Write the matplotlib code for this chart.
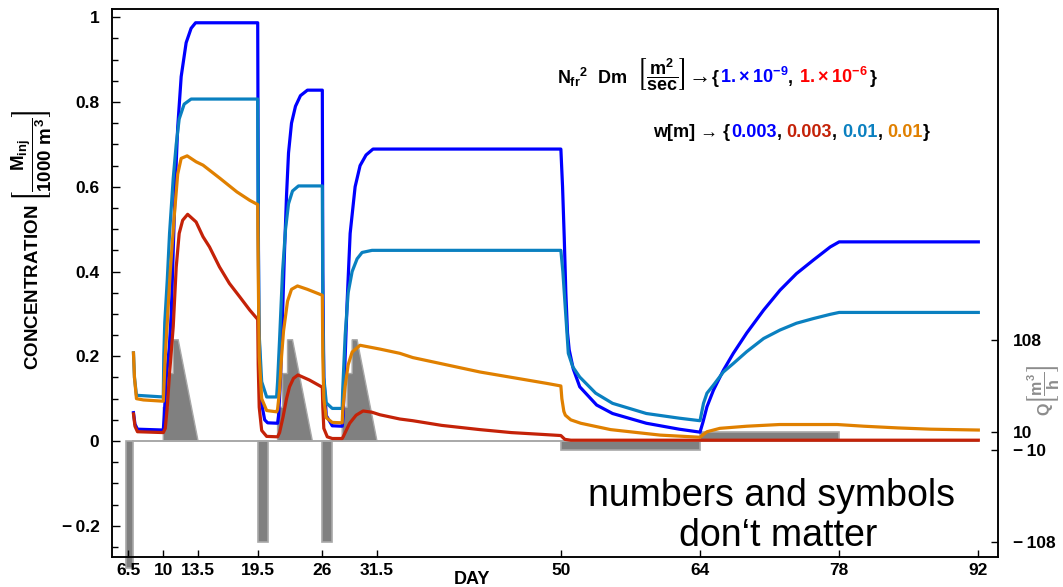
import matplotlib
matplotlib.use('Agg')
import matplotlib.pyplot as plt
from matplotlib.ticker import FixedLocator, FixedFormatter, MultipleLocator

plt.rcParams['font.family'] = ['Liberation Sans', 'DejaVu Sans']
plt.rcParams['font.weight'] = 'bold'
plt.rcParams['mathtext.fontset'] = 'custom'
plt.rcParams['mathtext.rm'] = 'Liberation Sans:bold'
plt.rcParams['mathtext.it'] = 'Liberation Sans:bold'
plt.rcParams['mathtext.bf'] = 'Liberation Sans:bold'
plt.rcParams['mathtext.sf'] = 'Liberation Sans:bold'
plt.rcParams['mathtext.fallback'] = 'stixsans'

# ---------------- data ----------------
blue_day = [7.0, 7.15, 7.4, 10.0, 10.1, 10.3, 10.6, 10.8, 11.0, 11.2, 11.45, 11.8, 12.3, 12.8, 13.25, 19.5,
            19.55, 19.6, 19.8, 20.2, 20.5, 21.5, 21.6, 21.8, 22.0, 22.2, 22.4, 22.6, 22.9, 23.3, 23.8, 24.5, 26.0,
            26.05, 26.15, 26.4, 27.0, 28.0, 28.1, 28.3, 28.5, 28.8, 29.3, 29.8, 30.4, 31.1, 50.0,
            50.17, 50.34, 50.5, 50.67, 50.84, 51.25, 51.9, 53.6, 55.2, 58.6, 61.9, 64.0,
            64.3, 64.7, 65.35, 66.35, 67.35, 68.7, 70.4, 72.05, 73.7, 75.4, 77.1, 78.0, 92.0]
blue_c = [0.067, 0.04, 0.028, 0.026, 0.06, 0.15, 0.22, 0.30, 0.45, 0.60, 0.74, 0.86, 0.94, 0.974, 0.987, 0.987,
          0.6, 0.3, 0.1, 0.05, 0.043, 0.042, 0.06, 0.15, 0.30, 0.45, 0.58, 0.68, 0.75, 0.79, 0.815, 0.828, 0.828,
          0.4, 0.15, 0.06, 0.036, 0.035, 0.06, 0.2, 0.33, 0.49, 0.60, 0.65, 0.675, 0.689, 0.689,
          0.60, 0.48, 0.35, 0.255, 0.215, 0.17, 0.128, 0.085, 0.065, 0.042, 0.028, 0.021,
          0.045, 0.081, 0.12, 0.167, 0.207, 0.255, 0.309, 0.356, 0.395, 0.427, 0.458, 0.470, 0.470]

teal_day = [7.0, 7.1, 7.3, 10.0, 10.05, 10.15, 10.4, 10.63, 11.0, 11.3, 11.6, 12.1, 12.8, 19.5,
            19.55, 19.65, 19.9, 20.4, 21.4, 21.5, 21.7, 22.0, 22.3, 22.6, 23.0, 23.6, 26.0,
            26.05, 26.15, 26.4, 27.0, 28.0, 28.05, 28.3, 28.6, 29.0, 29.5, 30.0, 31.0, 50.0,
            50.2, 50.4, 50.6, 50.75, 51.2, 51.9, 53.5, 55.2, 58.6, 61.9, 64.0,
            64.35, 64.7, 65.35, 66.35, 67.35, 68.7, 70.4, 72.05, 73.7, 75.4, 77.1, 78.0, 92.0]
teal_c = [0.208, 0.15, 0.108, 0.104, 0.2, 0.28, 0.38, 0.49, 0.62, 0.70, 0.76, 0.795, 0.807, 0.807,
          0.5, 0.25, 0.14, 0.104, 0.104, 0.14, 0.24, 0.40, 0.50, 0.56, 0.59, 0.602, 0.602,
          0.3, 0.15, 0.09, 0.077, 0.077, 0.12, 0.25, 0.35, 0.40, 0.43, 0.445, 0.45, 0.45,
          0.40, 0.33, 0.26, 0.207, 0.175, 0.151, 0.113, 0.089, 0.065, 0.054, 0.048,
          0.089, 0.113, 0.132, 0.163, 0.183, 0.211, 0.242, 0.262, 0.278, 0.289, 0.299, 0.3035, 0.3035]

red_day = [7.0, 7.15, 7.4, 10.0, 10.2, 10.4, 10.6, 10.8, 11.0, 11.3, 11.6, 11.95, 12.45, 13.3, 14.0, 14.65,
           15.65, 16.65, 17.7, 18.7, 19.5, 19.55, 19.65, 19.9, 20.4, 21.5, 21.7, 22.05, 22.4, 22.7, 23.1,
           23.55, 24.7, 26.0, 26.05, 26.15, 26.5, 27.0, 28.0, 28.1, 28.4, 28.75, 29.4, 30.1, 31.0, 31.8,
           33.8, 35.1, 38.0, 41.85, 45.0, 48.6, 50.0, 50.4, 51.0, 92.0]
red_c = [0.064, 0.035, 0.022, 0.02, 0.03, 0.08, 0.15, 0.21, 0.27, 0.41, 0.49, 0.521, 0.535, 0.517, 0.482, 0.458,
         0.411, 0.372, 0.34, 0.309, 0.287, 0.18, 0.08, 0.025, 0.011, 0.01, 0.02, 0.057, 0.1, 0.128, 0.148,
         0.156, 0.144, 0.127, 0.08, 0.03, 0.01, 0.006, 0.006, 0.01, 0.025, 0.042, 0.061, 0.071, 0.068, 0.062,
         0.052, 0.048, 0.037, 0.027, 0.02, 0.015, 0.013, 0.004, 0.002, 0.002]

orange_day = [7.0, 7.1, 7.3, 8.0, 10.0, 10.05, 10.2, 10.4, 10.7, 11.1, 11.45, 11.8, 12.4, 13.3, 14.0, 15.7,
              17.4, 18.7, 19.5, 19.55, 19.65, 19.9, 20.4, 21.4, 21.5, 21.7, 21.9, 22.1, 22.5, 22.9, 23.5,
              24.5, 26.0, 26.05, 26.15, 26.4, 27.0, 28.0, 28.05, 28.3, 28.6, 29.0, 29.8, 31.8, 33.8, 35.1,
              41.85, 48.6, 50.0, 50.1, 50.3, 50.45, 51.0, 52.0, 55.0, 60.0, 64.0,
              64.7, 66.0, 68.7, 72.0, 77.8, 80.5, 83.9, 87.2, 92.0]
orange_c = [0.208, 0.15, 0.10, 0.097, 0.094, 0.12, 0.2, 0.28, 0.40, 0.53, 0.63, 0.667, 0.673, 0.659, 0.651, 0.62,
            0.588, 0.568, 0.558, 0.4, 0.2, 0.1, 0.072, 0.069, 0.075, 0.12, 0.2, 0.26, 0.33, 0.358, 0.366,
            0.358, 0.344, 0.2, 0.1, 0.055, 0.044, 0.043, 0.07, 0.13, 0.18, 0.21, 0.226, 0.217, 0.207, 0.197,
            0.163, 0.136, 0.13, 0.1, 0.07, 0.061, 0.05, 0.042, 0.027, 0.014, 0.009,
            0.022, 0.030, 0.035, 0.039, 0.039, 0.035, 0.031, 0.028, 0.026]

# pumping rate Q [m3/h]
ext_start = [6.2, 19.5, 26.0, 50.0]
ext_end = [7.0, 20.5, 27.0, 64.0]
ext_q = [-135, -108, -108, -10]
inj_start = [10.0, 21.5, 28.0]
inj_prof_t = [0.0, 0.0, 0.5, 0.5, 1.0, 1.0, 1.5, 3.5]
inj_prof_q = [0, 36, 36, 72, 72, 108, 108, 0]
low_inj_start, low_inj_end, low_inj_q = 64.0, 78.0, 10
baseline_days = [7.0, 92.0]

xticks = [6.5, 10, 13.5, 19.5, 26, 31.5, 50, 64, 78, 92]
xtick_labels = ['6.5', '10', '13.5', '19.5', '26', '31.5', '50', '64', '78', '92']
yticks = [-0.2, 0, 0.2, 0.4, 0.6, 0.8, 1.0]
ytick_labels = ['\u2212\u20090.2', '0', '0.2', '0.4', '0.6', '0.8', '1']
qticks = [108, 10, -10, -108]
qtick_labels = ['108', '10', '\u2212\u200910', '\u2212\u2009108']

# ---------------- figure ----------------
W, H = 1063, 587
fig = plt.figure(figsize=(W / 100, H / 100), dpi=100)
ax = fig.add_axes([112 / W, 30 / H, 886 / W, 548 / H])
ax2 = ax.twinx()
ax.set_zorder(ax2.get_zorder() + 1)
ax.patch.set_visible(False)

ylim = (-0.2736, 1.0195)
K = 452.0
ax.set_xlim(4.84, 93.98)
ax.set_ylim(*ylim)
ax2.set_ylim(ylim[0] * K, ylim[1] * K)

bar_fc, bar_ec = '#808080', '#a8a8a8'
for s, e, q in zip(ext_start, ext_end, ext_q):
    ax2.fill([s, s, e, e], [0, q, q, 0], facecolor=bar_fc, edgecolor=bar_ec, lw=1.2, clip_on=False)
for s in inj_start:
    ax2.fill([s + t for t in inj_prof_t], inj_prof_q, facecolor=bar_fc, edgecolor=bar_ec, lw=1.0)
ax2.fill([low_inj_start, low_inj_start, low_inj_end, low_inj_end], [0, low_inj_q, low_inj_q, 0],
         facecolor=bar_fc, edgecolor=bar_ec, lw=1.2)
ax2.plot(baseline_days, [0, 0], color=bar_ec, lw=1.4)

lw = 2.3
ax.plot(blue_day, blue_c, color='#0000ff', lw=lw)
ax.plot(teal_day, teal_c, color='#0a80c0', lw=lw)
ax.plot(red_day, red_c, color='#c42208', lw=lw)
ax.plot(orange_day, orange_c, color='#e08000', lw=lw)

# ticks
ax.xaxis.set_major_locator(FixedLocator(xticks))
ax.xaxis.set_major_formatter(FixedFormatter(xtick_labels))
ax.yaxis.set_major_locator(FixedLocator(yticks))
ax.yaxis.set_major_formatter(FixedFormatter(ytick_labels))
ax.yaxis.set_minor_locator(MultipleLocator(0.05))
ax.tick_params(axis='both', which='both', direction='in', top=False, right=False, width=1, labelsize=12.5)
ax.tick_params(axis='y', which='major', length=6, pad=9)
ax.tick_params(axis='y', which='minor', length=4)
ax.tick_params(axis='x', which='major', length=5, pad=4)
ax2.yaxis.set_major_locator(FixedLocator(qticks))
ax2.yaxis.set_major_formatter(FixedFormatter(qtick_labels))
ax2.tick_params(axis='y', direction='in', length=5, width=1, labelsize=12.5, pad=11)
for a in (ax, ax2):
    for sp in a.spines.values():
        sp.set_linewidth(1.1)
for lab in ax.get_xticklabels() + ax.get_yticklabels() + ax2.get_yticklabels():
    lab.set_fontweight('bold')

# axis labels
fig.text(472 / W, 1 - 579 / H, 'DAY', ha='center', va='center', fontsize=13, fontweight='bold')
fig.text(32 / W, 1 - 240 / H, r'CONCENTRATION $\left[\dfrac{M_{inj}}{1000\ m^3}\right]$',
         rotation=90, ha='center', va='center', fontsize=13.5, fontweight='bold')
fig.text(1043 / W, 1 - 390 / H, r'Q$\left[\dfrac{m^3}{h}\right]$', rotation=90, ha='center', va='center',
         fontsize=11.5, fontweight='bold', color='#8c8c8c')

# annotation lines with coloured pieces
renderer = fig.canvas.get_renderer()


def chain(pieces, x0, ybase, fs=13):
    x = x0
    for s, c, gap, size in pieces:
        t = fig.text(x / W, ybase / H, s, color=c, fontsize=size or fs, fontweight='bold',
                     ha='left', va='baseline')
        bb = t.get_window_extent(renderer)
        x = bb.x1 + gap


chain([(r'$N_{fr}{}^{2}\ \ Dm\ \ \left[\dfrac{m^2}{sec}\right]$', 'black', 3, None),
       ('\u2192', 'black', 1, 16),
       ('{', 'black', 1, None),
       ('1.\u2009\u00d7\u200910$^{-9}$', '#0000ff', 0, None),
       (', ', 'black', 1, None),
       ('1.\u2009\u00d7\u200910$^{-6}$', '#ff0000', 1, None),
       ('}', 'black', 0, None)], 557, H - 83)

chain([('w[m] \u2192 {', 'black', 1, None),
       ('0.003', '#0000ff', 0, None),
       (', ', 'black', 0, None),
       ('0.003', '#c42208', 0, None),
       (', ', 'black', 0, None),
       ('0.01', '#0a80c0', 0, None),
       (', ', 'black', 0, None),
       ('0.01', '#e08000', 0, None),
       ('}', 'black', 0, None)], 653, H - 137)

fig.text(772 / W, 1 - 506 / H, 'numbers and symbols', ha='center', va='baseline', fontsize=27,
         fontweight='normal', family='Liberation Sans')
fig.text(778 / W, 1 - 546 / H, 'don\u2018t matter', ha='center', va='baseline', fontsize=27,
         fontweight='normal', family='Liberation Sans')

fig.savefig('out.png', dpi=100)
